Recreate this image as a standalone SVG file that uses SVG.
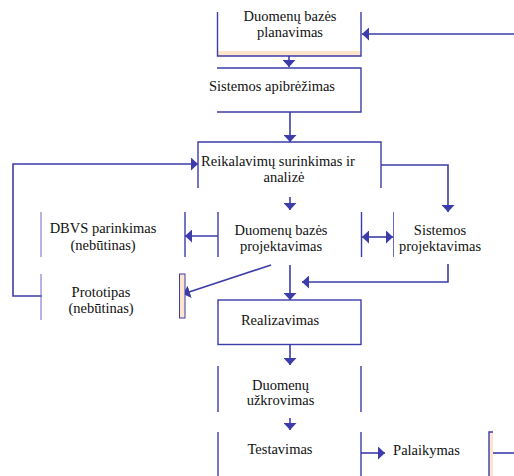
<svg xmlns="http://www.w3.org/2000/svg" width="514" height="476" viewBox="0 0 514 476">
  <defs>
    <style>
      .edge { stroke: #3c3caa; stroke-width: 1.4; fill: none; }
      .thin { stroke: #6a6ac0; stroke-width: 1; fill: none; }
      .conn { stroke: #3c3caa; stroke-width: 1.6; fill: none; }
      .strip { fill: #fde4cc; }
      .label { font-size: 14.5px; fill: #111; text-anchor: middle; }
    </style>
    <marker id="arrow" viewBox="0 0 7 13" markerWidth="7" markerHeight="13" refX="7" refY="6.5" orient="auto-start-reverse" markerUnits="userSpaceOnUse">
      <path d="M0,0 L7,6.5 L0,13 z" fill="#3c3caa"/>
    </marker>
  </defs>

  <rect width="514" height="476" fill="#ffffff"/>

  <g id="connectors">
    <path class="conn" d="M514,34 H362" marker-end="url(#arrow)"/>
    <path class="conn" d="M289,56 V67" marker-end="url(#arrow)"/>
    <path class="conn" d="M290,112 V142" marker-end="url(#arrow)"/>
    <path class="conn" d="M42,296 H13 V164 H198" marker-end="url(#arrow)"/>
    <path class="conn" d="M381,165 H448 V212" marker-end="url(#arrow)"/>
    <path class="conn" d="M290,197 V210" marker-end="url(#arrow)"/>
    <path class="conn" d="M218,236 H185" marker-end="url(#arrow)"/>
    <path class="conn" d="M362,237 H393" marker-start="url(#arrow)" marker-end="url(#arrow)"/>
    <path class="conn" d="M271,265 L183,294" marker-end="url(#arrow)"/>
    <path class="conn" d="M290,265 V300" marker-end="url(#arrow)"/>
    <path class="conn" d="M448,264 V282 H302" marker-end="url(#arrow)"/>
    <path class="conn" d="M290,345 V365" marker-end="url(#arrow)"/>
    <path class="conn" d="M290,418 V430" marker-end="url(#arrow)"/>
    <path class="conn" d="M361,453 H385" marker-end="url(#arrow)"/>
    <path class="conn" d="M493,453 H514"/>
  </g>

  <g font-family="Liberation Serif, DejaVu Serif, serif">
    <g id="planavimas">
      <rect class="strip" x="218" y="51" width="143" height="5"/>
      <path class="edge" d="M217.5,12 V56 H361 V12"/>
      <text class="label" x="290" y="21">Duomenų bazės</text>
      <text class="label" x="290" y="37">planavimas</text>
    </g>

    <g id="apibrezimas">
      <path class="edge" d="M217,68 H361 V112 H217"/>
      <text class="label" x="272" y="91">Sistemos apibrėžimas</text>
    </g>

    <g id="reikalavimai">
      <path class="edge" d="M198,188 V142 H381 V188"/>
      <text class="label" x="278" y="166">Reikalavimų surinkimas ir</text>
      <text class="label" x="284" y="182">analizė</text>
    </g>

    <g id="dbvs">
      <path class="thin" d="M41,212 V257"/>
      <path class="edge" d="M185,212 V257"/>
      <text class="label" x="103" y="233">DBVS parinkimas</text>
      <text class="label" x="103" y="250">(nebūtinas)</text>
    </g>

    <g id="db-projektavimas">
      <path class="edge" d="M218,212 V257 M361.5,212 V257"/>
      <text class="label" x="281" y="235">Duomenų bazės</text>
      <text class="label" x="281" y="251">projektavimas</text>
    </g>

    <g id="sis-projektavimas">
      <path class="thin" d="M393.5,212 V257"/>
      <text class="label" x="440" y="235">Sistemos</text>
      <text class="label" x="440" y="251">projektavimas</text>
    </g>

    <g id="prototipas">
      <path class="thin" d="M41,274 V320"/>
      <rect class="strip" x="179.5" y="274" width="5.5" height="44" stroke="#3c3caa" stroke-width="1"/>
      <text class="label" x="101" y="297">Prototipas</text>
      <text class="label" x="101" y="313">(nebūtinas)</text>
    </g>

    <g id="realizavimas">
      <rect class="edge" x="218" y="300" width="143" height="44.5"/>
      <text class="label" x="280" y="325">Realizavimas</text>
    </g>

    <g id="uzkrovimas">
      <path class="edge" d="M218,366 V412 M361,366 V412"/>
      <text class="label" x="280.5" y="390">Duomenų</text>
      <text class="label" x="280.5" y="405">užkrovimas</text>
    </g>

    <g id="testavimas">
      <path class="edge" d="M218,432 V476 M361,432 V476"/>
      <text class="label" x="280" y="454">Testavimas</text>
    </g>

    <g id="palaikymas">
      <rect class="strip" x="489" y="432" width="4" height="44"/>
      <path class="edge" d="M489,476 V432 H493"/>
      <text class="label" x="426.5" y="455">Palaikymas</text>
    </g>
  </g>
</svg>
